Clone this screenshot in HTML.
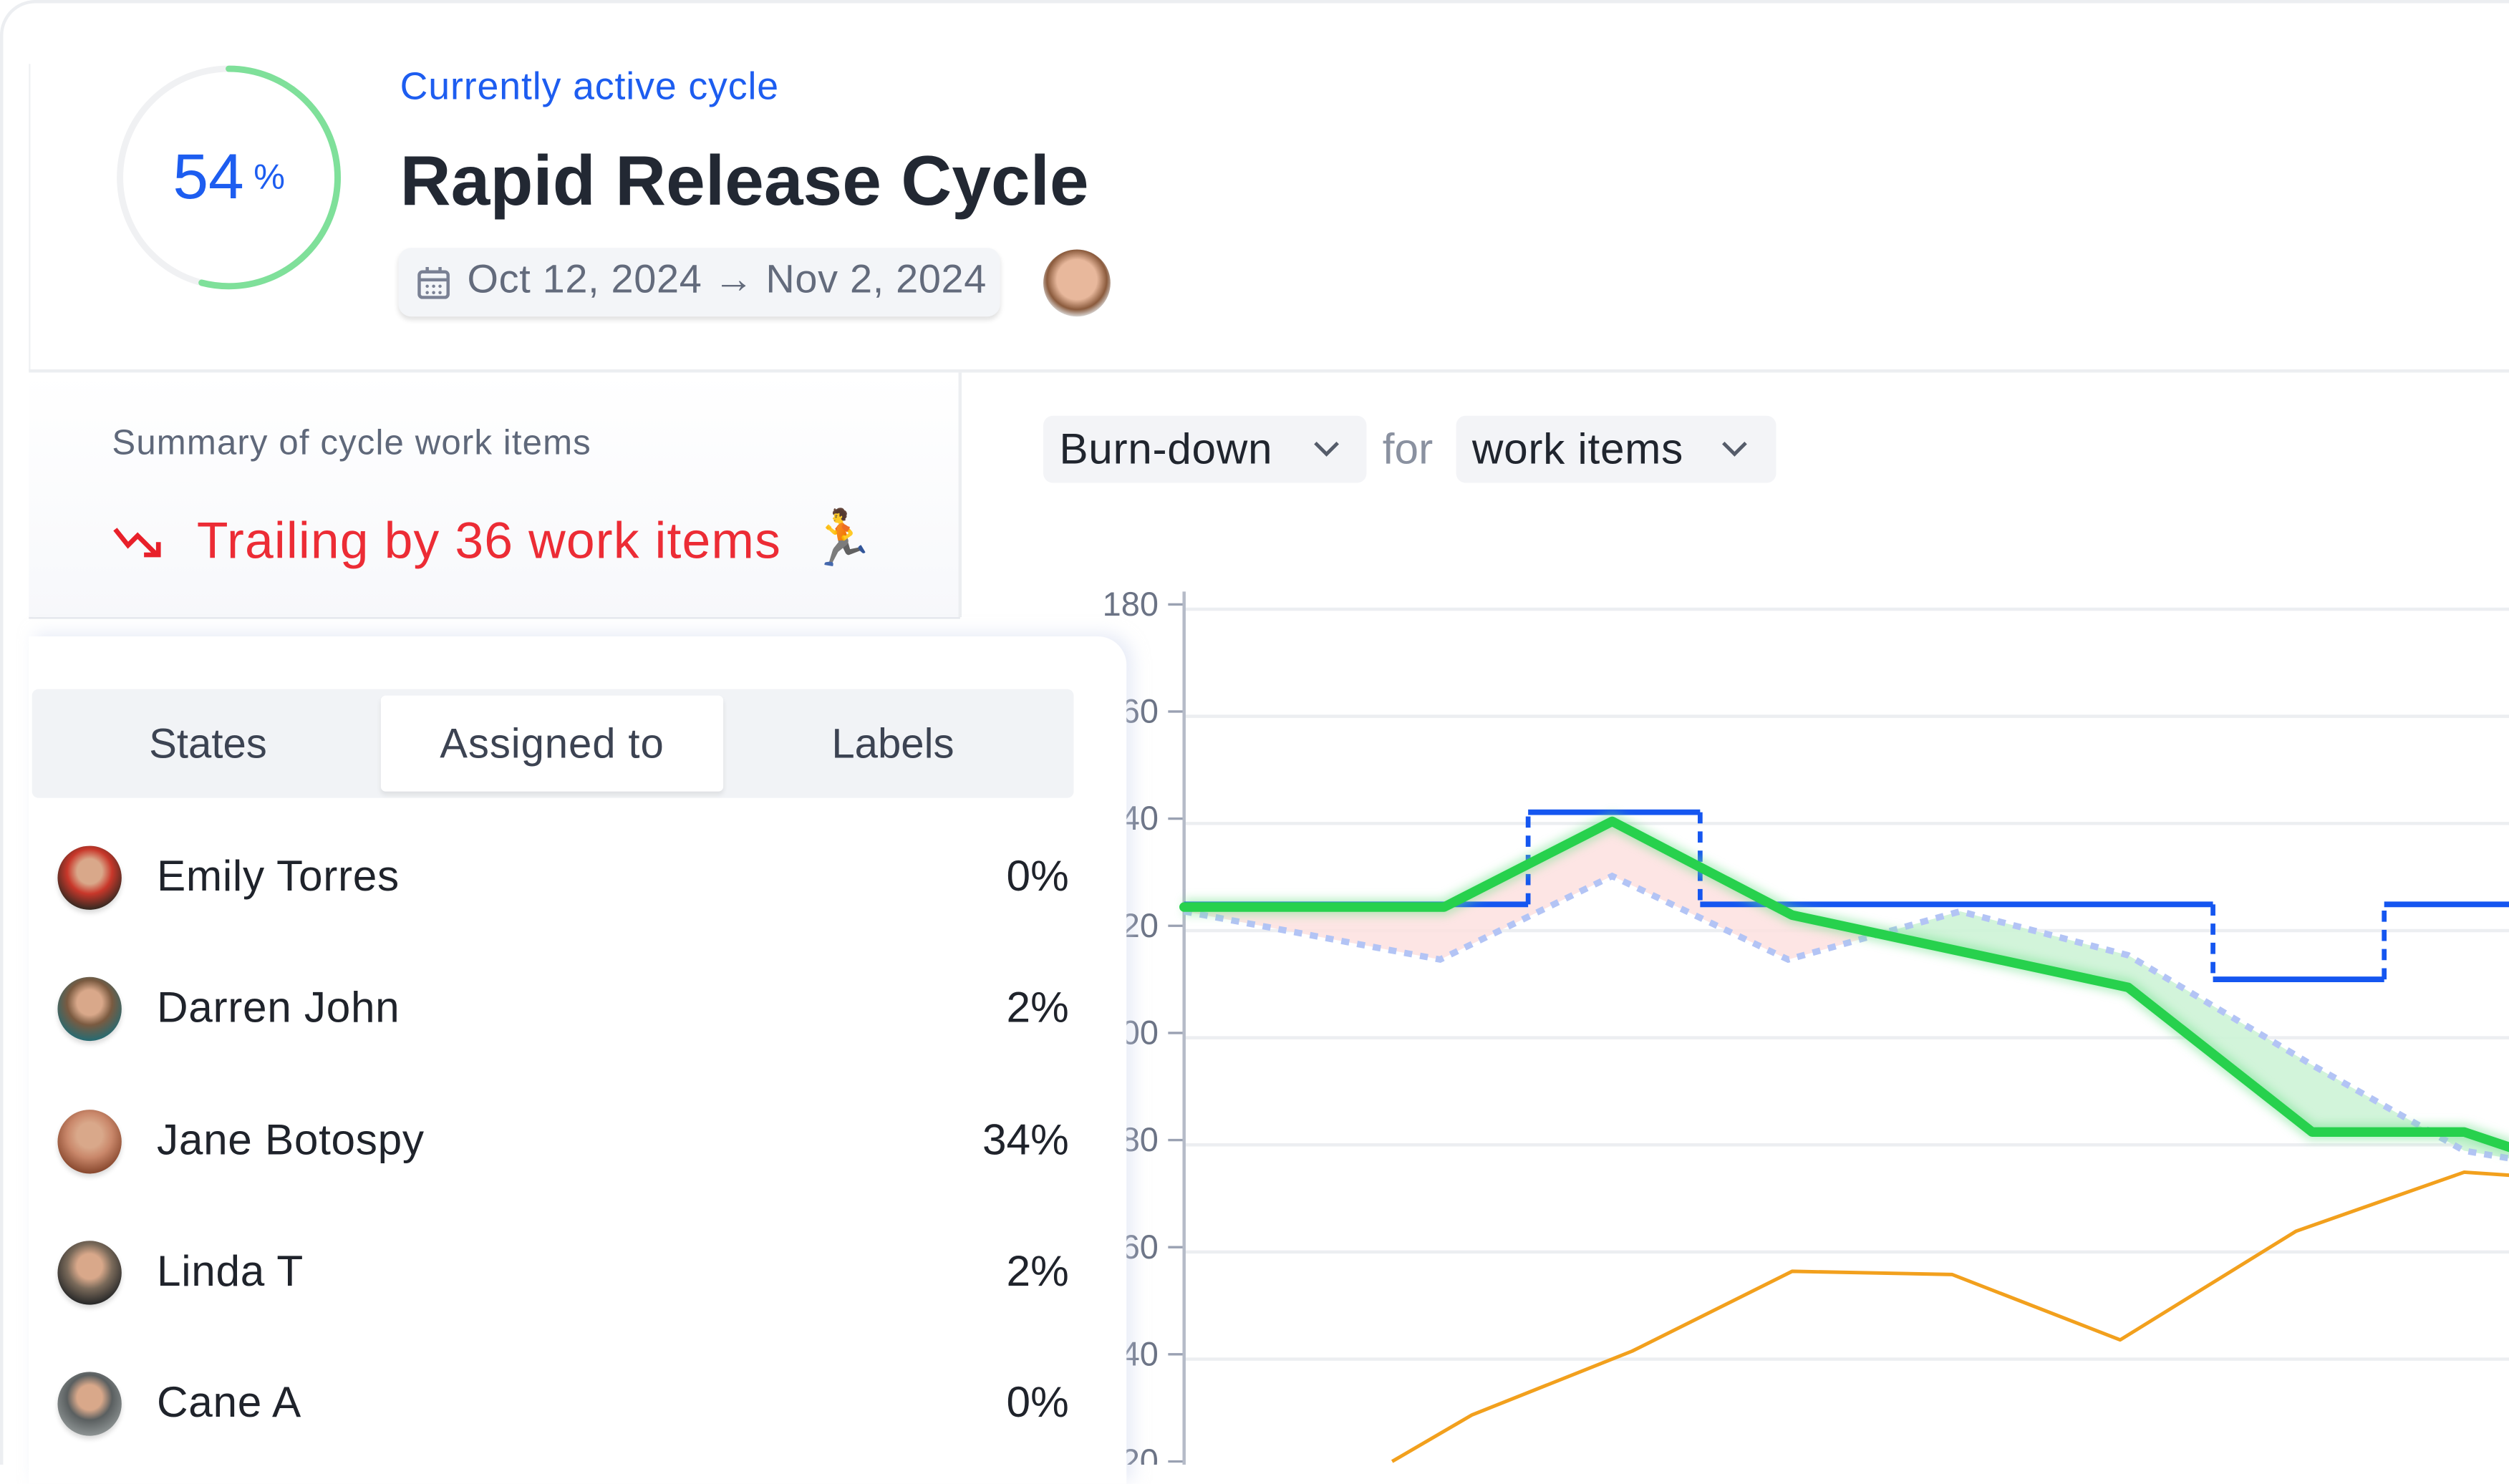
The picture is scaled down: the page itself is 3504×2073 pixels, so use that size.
<!DOCTYPE html>
<html><head><meta charset="utf-8">
<style>
html,body{margin:0;padding:0;background:#fff;overflow:hidden}
body{width:3504px;height:2046px}
#stage{position:absolute;left:0;top:0;width:1568px;height:916px;transform:scale(2.2347,2.2336);transform-origin:0 0;font-family:"Liberation Sans",sans-serif;background:#fff}
.abs{position:absolute}
</style></head><body>
<div id="stage">
  <div class="abs" style="left:0;top:0;width:1568px;height:916px;border-left:2px solid #eceef1;border-top:2px solid #eceef1;border-radius:22px 0 0 0;box-sizing:border-box"></div>
  <div class="abs" style="left:18px;top:40px;width:1px;height:192px;background:#eef0f3"></div>
  <svg class="abs" style="left:70px;top:38px" width="146" height="146">
    <circle cx="73" cy="73" r="68" fill="none" stroke="#f0f1f3" stroke-width="4"/>
    <circle cx="73" cy="73" r="68" fill="none" stroke="#7fe09a" stroke-width="4" stroke-dasharray="230.7 427.3" transform="rotate(-90 73 73)" stroke-linecap="round"/>
  </svg>
  <div class="abs" style="left:108px;top:89px;font-size:40px;color:#1d5df0">54<span style="font-size:22px;margin-left:6px;position:relative;top:-6px">%</span></div>
  <div class="abs" style="left:250px;top:41px;font-size:24px;color:#1d5df0;letter-spacing:0.4px">Currently active cycle</div>
  <div class="abs" style="left:250px;top:89px;font-size:44px;font-weight:bold;color:#222833">Rapid Release Cycle</div>
  <div class="abs" style="left:249px;top:155px;width:376px;height:43px;background:#f3f5f8;border-radius:8px;box-shadow:0 2px 3px rgba(0,0,0,0.12)">
    <svg class="abs" style="left:11px;top:11px" width="22" height="22"><rect x="2" y="4" width="18" height="16" rx="2" fill="none" stroke="#7a8194" stroke-width="2"/><line x1="2" y1="9" x2="20" y2="9" stroke="#7a8194" stroke-width="2"/><line x1="7" y1="1" x2="7" y2="5" stroke="#7a8194" stroke-width="2"/><line x1="15" y1="1" x2="15" y2="5" stroke="#7a8194" stroke-width="2"/><circle cx="7" cy="13" r="1" fill="#7a8194"/><circle cx="11" cy="13" r="1" fill="#7a8194"/><circle cx="15" cy="13" r="1" fill="#7a8194"/><circle cx="7" cy="17" r="1" fill="#7a8194"/><circle cx="11" cy="17" r="1" fill="#7a8194"/><circle cx="15" cy="17" r="1" fill="#7a8194"/></svg>
    <div class="abs" style="left:43px;top:6px;font-size:25px;color:#636b7c;white-space:nowrap;letter-spacing:0.3px">Oct 12, 2024 → Nov 2, 2024</div>
  </div>
  <div class="abs" style="left:652px;top:156px;width:42px;height:42px;border-radius:50%;background:radial-gradient(circle at 50% 45%,#e8b89c 0 40%,#8a5a3c 60%,#ddd 75%)"></div>
  <div class="abs" style="left:18px;top:231px;width:1550px;height:2px;background:#eceef1"></div>
  <div class="abs" style="left:18px;top:233px;width:582px;height:153px;background:linear-gradient(#fff,#f7f8fb);border-bottom:1px solid #e3e6ec">
    <div class="abs" style="left:52px;top:31px;font-size:22px;color:#5f687a;letter-spacing:0.5px;white-space:nowrap">Summary of cycle work items</div>
    <svg class="abs" style="left:52px;top:94px" width="34" height="24"><polyline points="2,4 10,14 16,8 28,20" fill="none" stroke="#e8202a" stroke-width="3"/><polyline points="20,20 29,20 29,12" fill="none" stroke="#e8202a" stroke-width="3"/></svg>
    <div class="abs" style="left:105px;top:87px;font-size:32px;color:#ec2c35;white-space:nowrap;letter-spacing:0.5px">Trailing by 36 work items</div>
    <div class="abs" style="left:487px;top:84px;font-size:34px;font-family:'DejaVu Sans',sans-serif">🏃</div>
  </div>
  <div class="abs" style="left:599px;top:233px;width:2px;height:153px;background:#eceef1"></div>
  <div class="abs" style="left:652px;top:260px;width:202px;height:42px;background:#f3f4f7;border-radius:6px">
    <div class="abs" style="left:10px;top:6px;font-size:27px;color:#20252e;letter-spacing:0.3px">Burn-down</div>
    <svg class="abs" style="left:168px;top:14px" width="18" height="14"><polyline points="2,3 9,10 16,3" fill="none" stroke="#555c6a" stroke-width="2.2"/></svg>
  </div>
  <div class="abs" style="left:864px;top:266px;font-size:27px;color:#8a91a0">for</div>
  <div class="abs" style="left:910px;top:260px;width:200px;height:42px;background:#f3f4f7;border-radius:6px">
    <div class="abs" style="left:10px;top:6px;font-size:27px;color:#20252e;letter-spacing:0.3px">work items</div>
    <svg class="abs" style="left:165px;top:14px" width="18" height="14"><polyline points="2,3 9,10 16,3" fill="none" stroke="#555c6a" stroke-width="2.2"/></svg>
  </div>
  <svg id="chart" class="abs" style="left:0;top:0" width="1568" height="916">
    <defs>
      <clipPath id="clipL"><rect x="740" y="300" width="425" height="616"/></clipPath>
      <clipPath id="clipR"><rect x="1165" y="300" width="403" height="616"/></clipPath>
      <filter id="glow" x="-10%" y="-10%" width="120%" height="130%"><feGaussianBlur stdDeviation="3"/></filter>
    </defs>
    <g id="grid"></g><g id="fills"></g><g id="lines"></g>
  </svg>
  <div class="abs" style="left:18px;top:398px;width:686px;height:530px;background:#fff;border-radius:0 18px 0 0;box-shadow:4px -2px 10px rgba(210,218,240,0.5)">
    <div class="abs" style="left:2px;top:33px;width:651px;height:68px;background:#f1f3f6;border-radius:4px">
      <div class="abs" style="left:0;top:0;width:220px;height:68px;text-align:center;line-height:68px;font-size:26px;color:#3c4352">States</div>
      <div class="abs" style="left:218px;top:4px;width:214px;height:60px;background:#fff;border-radius:3px;box-shadow:0 2px 3px rgba(0,0,0,0.08);text-align:center;line-height:60px;font-size:26px;color:#3c4352;letter-spacing:0.4px">Assigned to</div>
      <div class="abs" style="left:428px;top:0;width:220px;height:68px;text-align:center;line-height:68px;font-size:26px;color:#3c4352">Labels</div>
    </div>
    <div id="rows"></div>
  </div>
</div>
<script>
const yTicks = [180,160,140,120,100,80,60,40,20];
const actualDays = [0,3.25,5.35,7.6,11.8,14.1,16,16.6];
const actualVals = [123.5,123.5,139.5,122,108.5,81.5,81.5,78.5];
const idealDays = [0,3.2,5.35,7.55,9.7,11.8,14.1,16,16.6];
const idealVals = [122.7,113.7,129.3,113.7,122.7,114.5,94,78,76.5];
const scopeDays = [0,4.3,6.45,12.86,15,16.6];
const scopeVals = [124,141.2,124,110,124,124];
const doneDays = [2.6,3.6,5.6,7.6,9.6,11.7,13.9,16,16.6];
const doneVals = [20,28.7,40.6,55.5,54.9,42.7,63,74,73.4];
const X0=740, DAY=50;
function x(d){return X0+d*DAY;}
function y(v){return 378+(180-v)*3.35;}
const NS='http://www.w3.org/2000/svg';
function mk(tag,attrs,parent){const e=document.createElementNS(NS,tag);for(const k in attrs)e.setAttribute(k,attrs[k]);parent.appendChild(e);return e;}
const grid=document.getElementById('grid'),fills=document.getElementById('fills'),lines=document.getElementById('lines');
yTicks.forEach(t=>{
  const g=mk('line',{x1:X0,x2:1568,y1:y(t)+3,y2:y(t)+3,stroke:'#eceef1','stroke-width':2},grid);
  
  
  const tk=mk('line',{x1:X0-10,x2:X0,y1:y(t),y2:y(t),stroke:'#9aa1b2','stroke-width':1.5},grid);
  
  
  const tx=mk('text',{x:X0-16,y:y(t)+7,'text-anchor':'end','font-size':21,fill:'#6b7385','font-family':'Liberation Sans, sans-serif'},grid);
  tx.textContent=t;
  
  
});
const ax=mk('line',{x1:X0,x2:X0,y1:370,y2:916,stroke:'#b5bbc8','stroke-width':2},grid);


function pts(ds,vs){return ds.map((d,i)=>x(d)+','+y(vs[i])).join(' ');}
const band = pts(actualDays,actualVals)+' '+idealDays.slice().reverse().map((d,i)=>{const j=idealDays.length-1-i;return x(d)+','+y(idealVals[j]);}).join(' ');
const f1=mk('polygon',{points:band,fill:'#fde0df',opacity:0.85,'clip-path':'url(#clipL)'},fills);


const f2=mk('polygon',{points:band,fill:'#cdf3d6',opacity:0.9,'clip-path':'url(#clipR)'},fills);


const il=mk('polyline',{points:pts(idealDays,idealVals),fill:'none',stroke:'#b3c4f5','stroke-width':4,'stroke-dasharray':'5 5'},lines);


for(let i=0;i<scopeDays.length-1;i++){
  const h=mk('line',{x1:x(scopeDays[i]),x2:x(scopeDays[i+1]),y1:y(scopeVals[i]),y2:y(scopeVals[i]),stroke:'#1556f0','stroke-width':3.5},lines);
  
  
  if(scopeVals[i+1]!==scopeVals[i]){
    const v=mk('line',{x1:x(scopeDays[i+1]),x2:x(scopeDays[i+1]),y1:y(scopeVals[i]),y2:y(scopeVals[i+1]),stroke:'#1556f0','stroke-width':3,'stroke-dasharray':'7 5'},lines);
    
    
  }
}
const ol=mk('polyline',{points:pts(doneDays,doneVals),fill:'none',stroke:'#f2a01d','stroke-width':2.2,'stroke-linejoin':'round'},lines);


const ag=mk('polyline',{points:pts(actualDays,actualVals),fill:'none',stroke:'#6ee08a','stroke-width':10,opacity:0.5,filter:'url(#glow)'},lines);


const al=mk('polyline',{points:pts(actualDays,actualVals),fill:'none',stroke:'#27d14d','stroke-width':6,'stroke-linejoin':'round','stroke-linecap':'round'},lines);


const names=['Emily Torres','Darren John','Jane Botospy','Linda T','Cane A'];
const pcts=['0%','2%','34%','2%','0%'];
const avatarColors=[['#c8372a','#3a2a22'],['#7a5a40','#2a6a70'],['#c9876a','#8a4a30'],['#7a6a5a','#2a2a2a'],['#5a5f60','#8a9090']];
const rows=document.getElementById('rows');
names.forEach((n,i)=>{
  const r=document.createElement('div');
  r.className='abs';
  r.style.cssText='left:0;top:'+(131+i*82.3)+'px;width:660px;height:42px';
  
  
  r.innerHTML='<div class="abs" style="left:18px;top:0;width:40px;height:40px;border-radius:50%;background:radial-gradient(circle at 50% 40%,#d9a88a 0 25%,'+avatarColors[i][0]+' 45%,'+avatarColors[i][1]+' 75%);box-shadow:0 2px 3px rgba(0,0,0,0.15)"></div>'+
    '<div class="abs" style="left:80px;top:4px;font-size:27px;color:#1f232b;white-space:nowrap;letter-spacing:0.3px">'+n+'</div>'+
    '<div class="abs" style="right:10px;top:4px;font-size:27px;color:#1f232b">'+pcts[i]+'</div>';
  rows.appendChild(r);
});
</script>
</body></html>
